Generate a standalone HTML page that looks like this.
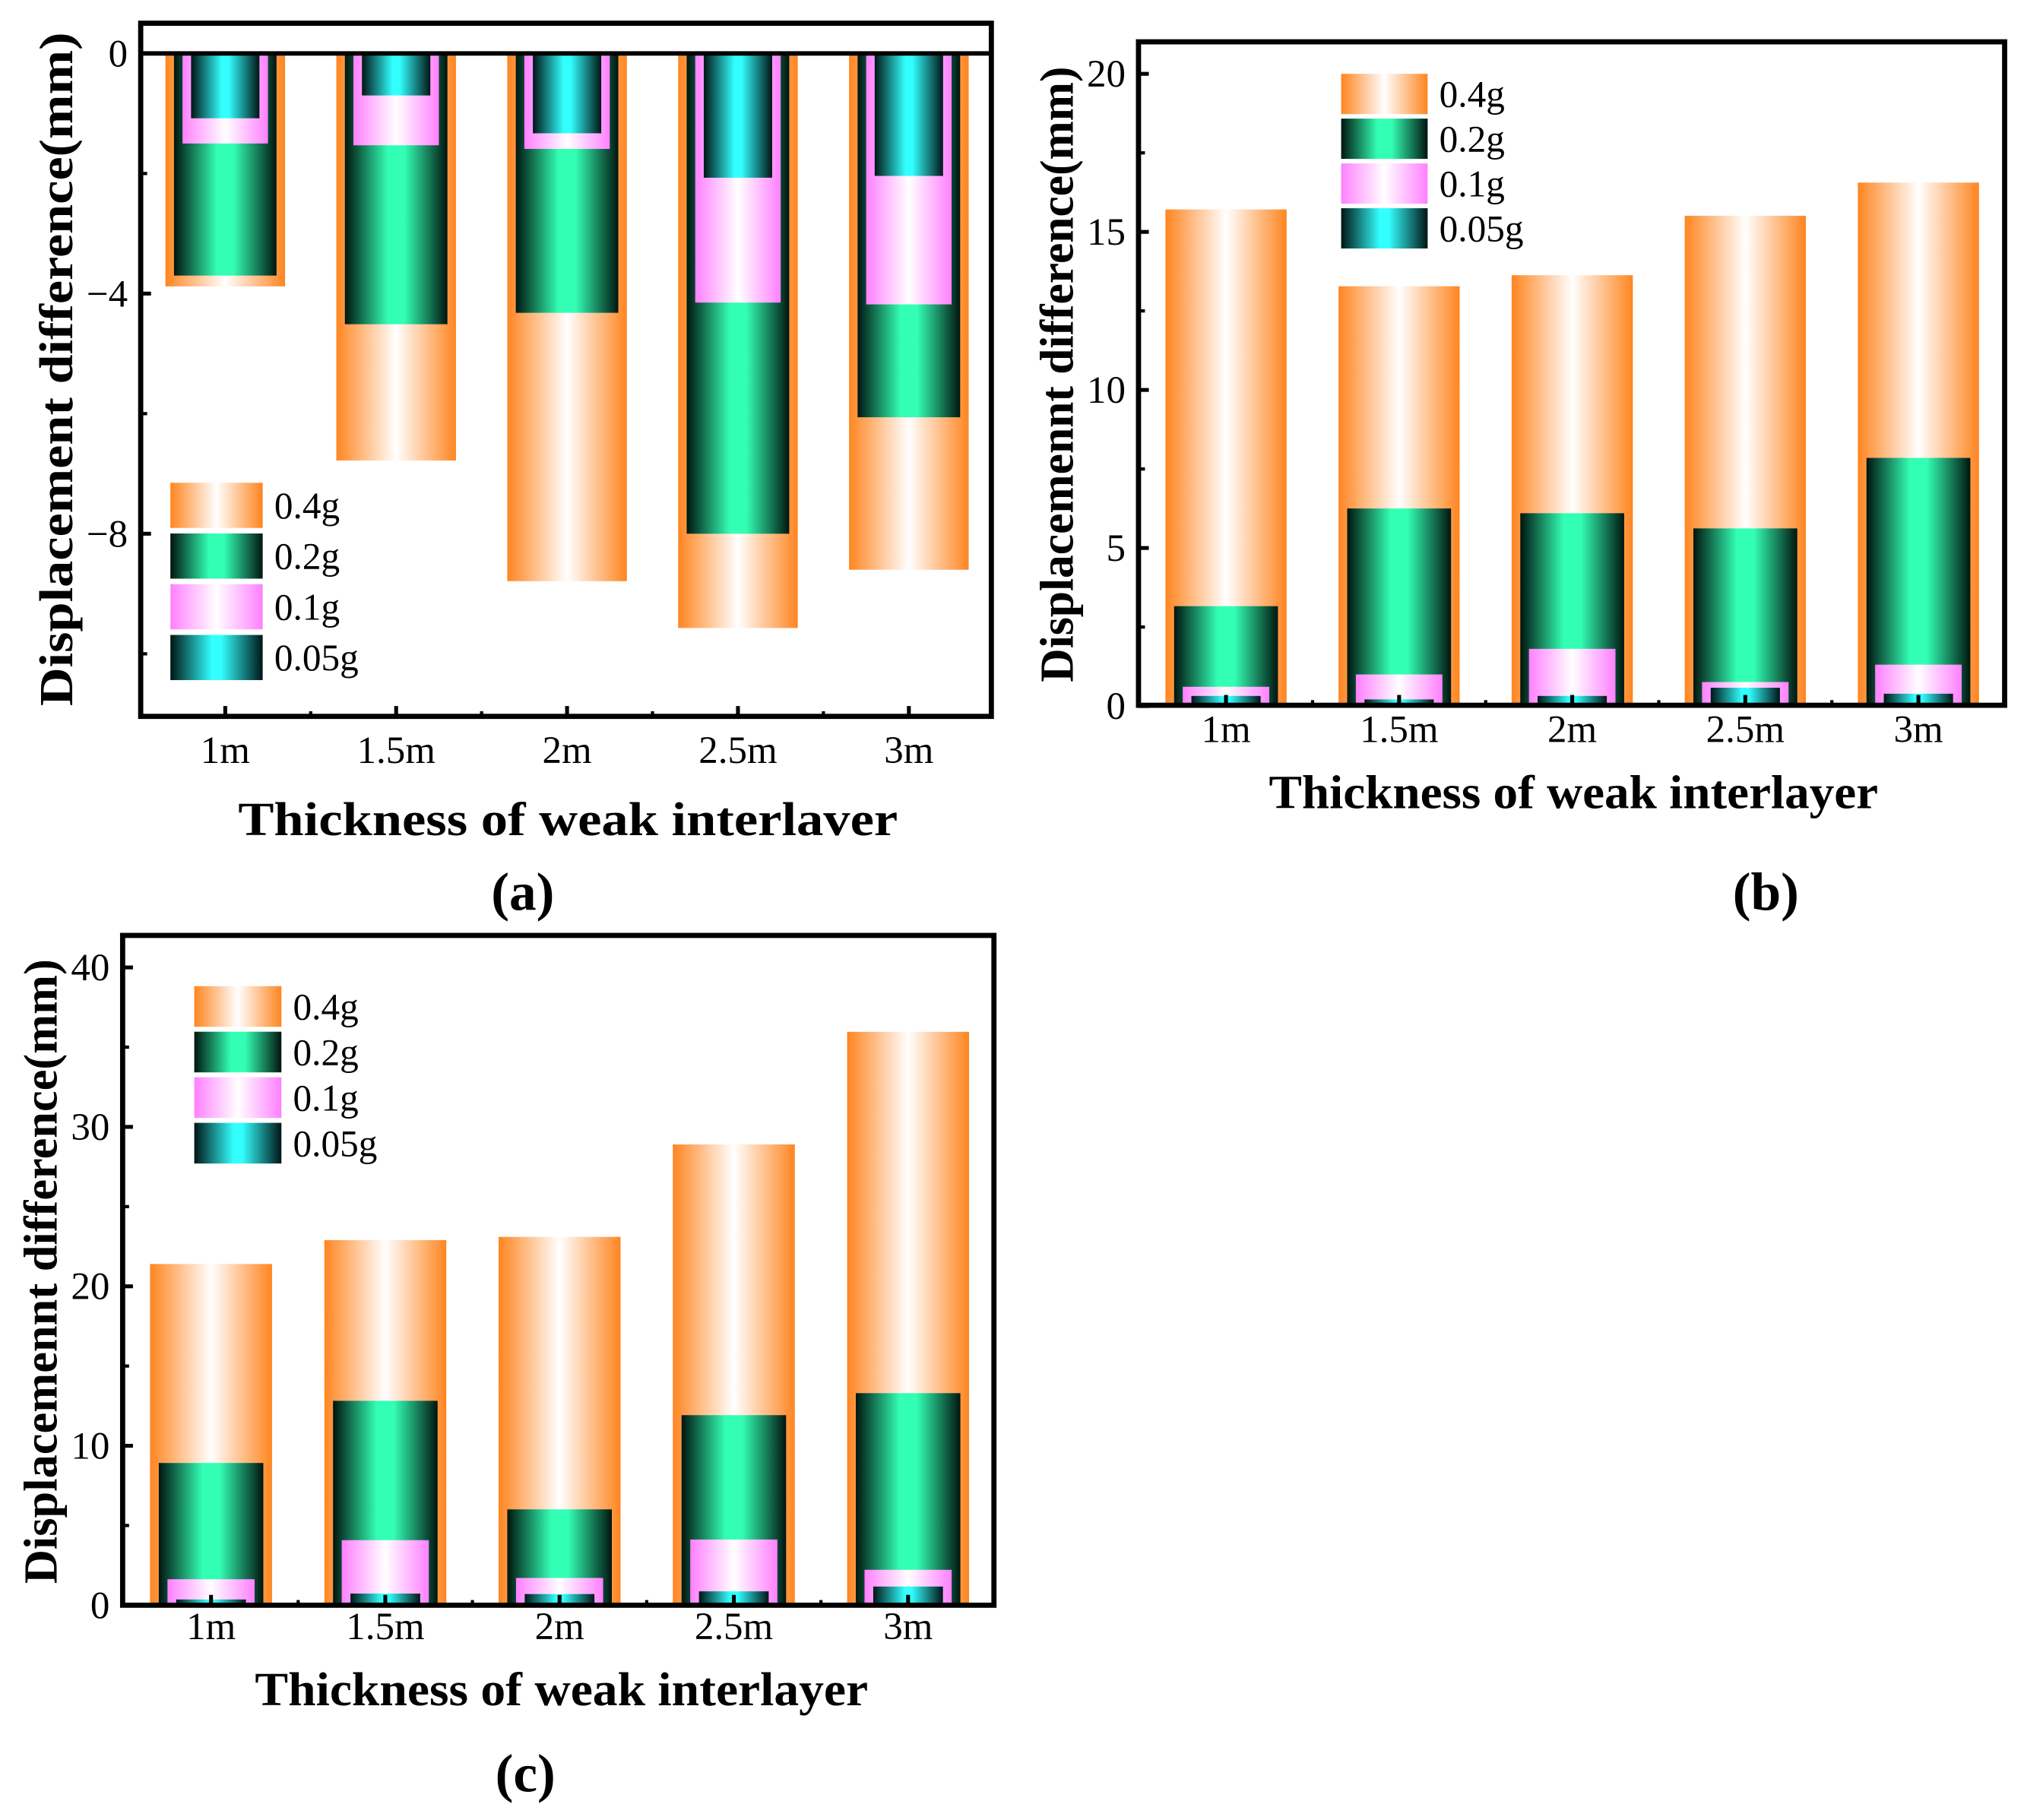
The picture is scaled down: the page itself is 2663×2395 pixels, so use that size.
<!DOCTYPE html>
<html><head><meta charset="utf-8"><style>
html,body{margin:0;padding:0;background:#fff}
svg{display:block}
text{font-family:"Liberation Serif",serif;fill:#000}
</style></head><body>
<svg id="fig" xmlns="http://www.w3.org/2000/svg" width="2663" height="2395" viewBox="0 0 1568 1410" preserveAspectRatio="none">
<defs>
<linearGradient id="g04" x1="0" x2="1" y1="0" y2="0"><stop offset="0" stop-color="#ff8520"/><stop offset="0.5" stop-color="#ffffff"/><stop offset="1" stop-color="#ff8520"/></linearGradient>
<linearGradient id="g02" x1="0" x2="1" y1="0" y2="0"><stop offset="0" stop-color="#001510"/><stop offset="0.42" stop-color="#33ffb4"/><stop offset="0.58" stop-color="#33ffb4"/><stop offset="1" stop-color="#001510"/></linearGradient>
<linearGradient id="g01" x1="0" x2="1" y1="0" y2="0"><stop offset="0" stop-color="#ff80ff"/><stop offset="0.5" stop-color="#ffffff"/><stop offset="1" stop-color="#ff80ff"/></linearGradient>
<linearGradient id="g005" x1="0" x2="1" y1="0" y2="0"><stop offset="0" stop-color="#001515"/><stop offset="0.45" stop-color="#33ffff"/><stop offset="0.55" stop-color="#33ffff"/><stop offset="1" stop-color="#001515"/></linearGradient>
</defs>
</svg>
<script>
const categories = ["1m","1.5m","2m","2.5m","3m"];
const seriesNames = ["0.4g","0.2g","0.1g","0.05g"];
const aVals04 = [-3.88,-6.78,-8.79,-9.57,-8.60];
const aVals02 = [-3.70,-4.51,-4.32,-8.00,-6.06];
const aVals01 = [-1.50,-1.53,-1.59,-4.15,-4.18];
const aVals005 = [-1.08,-0.70,-1.33,-2.07,-2.04];
const bVals04 = [15.71,13.28,13.63,15.51,16.56];
const bVals02 = [3.16,6.25,6.10,5.62,7.85];
const bVals01 = [0.61,1.00,1.81,0.76,1.31];
const bVals005 = [0.32,0.21,0.32,0.58,0.39];
const cVals04 = [21.4,22.9,23.1,28.9,35.96];
const cVals02 = [8.92,12.82,6.01,11.92,13.3];
const cVals01 = [1.63,4.08,1.71,4.12,2.22];
const cVals005 = [0.36,0.73,0.70,0.87,1.17];
const aTicks = [0,-4,-8];
const aMinor = [-2,-6,-10];
const bTicks = [0,5,10,15,20];
const bMinor = [2.5,7.5,12.5,17.5];
const cTicks = [0,10,20,30,40];
const cMinor = [5,15,25,35];

const NS="http://www.w3.org/2000/svg";
const svg=document.getElementById('fig');
function mk(tag,attrs,parent,txt){const e=document.createElementNS(NS,tag);for(const k in attrs)e.setAttribute(k,attrs[k]);if(txt!==undefined)e.textContent=txt;(parent||svg).appendChild(e);return e;}
const grads=["url(#g04)","url(#g02)","url(#g01)","url(#g005)"];
const widthFrac=[0.7,0.6,0.5,0.4];
function fmt(v){return v<0?"\u2212"+(-v):String(v);}

function panel(p){
  const g=mk('g',{});
  
  
  const y=v=>p.y0+(v-p.v0)*(p.y1-p.y0)/(p.v1-p.v0);
  const x=i=>p.c0+i*p.sp;
  const base=y(0);
  const sets=p.vals;
  for(let s=0;s<4;s++){
    for(let i=0;i<categories.length;i++){
      const w=p.sp*widthFrac[s], v=sets[s][i], yv=y(v);
      const r=mk('rect',{x:x(i)-w/2,y:Math.min(base,yv),width:w,height:Math.abs(yv-base),fill:grads[s]},g);
      
      
    }
  }
  // zero line for (a)
  if(p.zeroLine){const l=mk('line',{x1:p.L,x2:p.R,y1:base,y2:base,stroke:'#000','stroke-width':3.5},g);}
  // frame
  const f=mk('rect',{x:p.L,y:p.T,width:p.R-p.L,height:p.B-p.T,fill:'none',stroke:'#000','stroke-width':4},g);
  
  // y ticks
  p.ticks.forEach(t=>{
    mk('line',{x1:p.L,x2:p.L+8,y1:y(t),y2:y(t),stroke:'#000','stroke-width':3},g);
    const tx=mk('text',{x:p.L-10,y:y(t)+10,'text-anchor':'end','font-size':30},g,fmt(t));
    
  });
  p.minor.forEach(t=>{mk('line',{x1:p.L,x2:p.L+5,y1:y(t),y2:y(t),stroke:'#000','stroke-width':2.5},g);});
  // x ticks
  categories.forEach((c,i)=>{
    mk('line',{x1:x(i),x2:x(i),y1:p.B,y2:p.B-8,stroke:'#000','stroke-width':3},g);
    if(i<categories.length-1) mk('line',{x1:x(i)+p.sp/2,x2:x(i)+p.sp/2,y1:p.B,y2:p.B-4,stroke:'#000','stroke-width':2.5},g);
    const tx=mk('text',{x:x(i),y:p.xlY,'text-anchor':'middle','font-size':30},g,c);
    
  });
  // legend
  for(let s=0;s<4;s++){
    const ly=p.legY+s*p.legStep;
    const r=mk('rect',{x:p.legX,y:ly,width:p.legW,height:p.legH,fill:grads[s]},g);
    
    const t=mk('text',{x:p.legX+p.legW+9,y:ly+p.legH/2+10,'font-size':29},g,seriesNames[s]);
    
  }
  const xt=mk('text',{x:p.xtX,y:p.xtY,'text-anchor':'middle','font-size':37,'font-weight':'bold',textLength:p.xtLen,lengthAdjust:'spacingAndGlyphs'},g,'Thickness of weak '+p.xtWord);
  
  const yt=mk('text',{x:0,y:0,'text-anchor':'middle','font-size':37,'font-weight':'bold',textLength:p.ytLen,lengthAdjust:'spacingAndGlyphs',transform:`translate(${p.ytX},${p.ytY}) rotate(-90)`},g,p.ytText);
  
  const pl=mk('text',{x:p.plX,y:p.plY,'text-anchor':'middle','font-size':42,'font-weight':'bold'},g,'('+p.id+')');
  
}

panel({id:'a',L:109,R:768,T:18,B:555,v0:0,y0:41.4,v1:-8,y1:413.5,c0:174.5,sp:132.4,
 vals:[aVals04,aVals02,aVals01,aVals005],ticks:aTicks,minor:aMinor,zeroLine:true,xlY:591,
 legX:132,legY:374,legStep:39.3,legW:71.5,legH:35,
 xtX:440,xtY:647,xtLen:511,xtWord:'interlaver',ytX:56,ytY:286,ytLen:522,ytText:'Displacement difference(mm)',plX:405,plY:705});
panel({id:'b',L:882,R:1553,T:32.4,B:546.4,v0:0,y0:547,v1:20,y1:57.2,c0:949.8,sp:134.1,
 vals:[bVals04,bVals02,bVals01,bVals005],ticks:bTicks,minor:bMinor,zeroLine:false,xlY:575,
 legX:1039,legY:57.2,legStep:34.7,legW:67,legH:31.2,
 xtX:1219,xtY:626,xtLen:472,xtWord:'interlayer',ytX:831,ytY:290,ytLen:477,ytText:'Displacemennt difference(mm)',plX:1368,plY:705});
panel({id:'c',L:95,R:770,T:724.7,B:1243.6,v0:0,y0:1243.6,v1:40,y1:749.5,c0:163.5,sp:135,
 vals:[cVals04,cVals02,cVals01,cVals005],ticks:cTicks,minor:cMinor,zeroLine:false,xlY:1270,
 legX:150.5,legY:764,legStep:35.3,legW:67.5,legH:31.5,
 xtX:435,xtY:1321,xtLen:475,xtWord:'interlayer',ytX:44,ytY:985,ytLen:484,ytText:'Displacemennt difference(mm)',plX:407,plY:1388});
</script>
</body></html>
